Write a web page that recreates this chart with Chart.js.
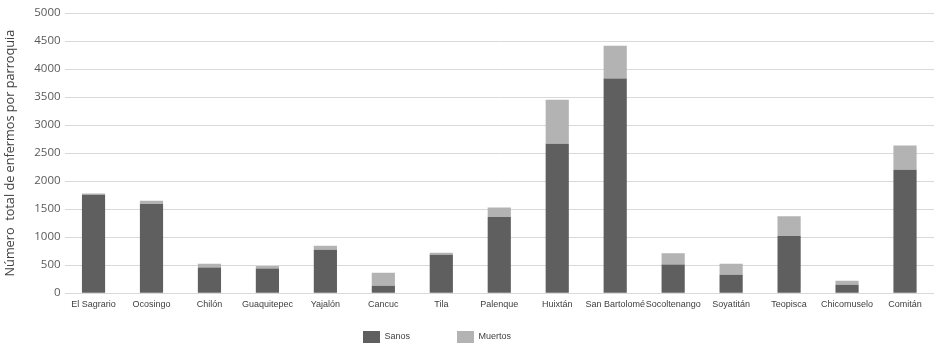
<!DOCTYPE html>
<html>
<head>
<meta charset="utf-8">
<script src="https://cdn.jsdelivr.net/npm/chart.js@4"></script>
<style>
  html, body { margin: 0; padding: 0; background: #fff; }
  #wrap { width: 937px; height: 355px; }
</style>
</head>
<body>
<div id="wrap"><canvas id="parroquiasChart" width="937" height="355"></canvas></div>
<script>
const parroquias = ['El Sagrario', 'Ocosingo', 'Chilón', 'Guaquitepec', 'Yajalón', 'Cancuc', 'Tila', 'Palenque',
    'Huixtán', 'San Bartolomé', 'Socoltenango', 'Soyatitán', 'Teopisca', 'Chicomuselo', 'Comitán'];
const sanos = [1755, 1590, 460, 440, 775, 135, 685, 1360, 2665, 3830, 510, 330, 1020, 150, 2205];
const muertos = [25, 60, 65, 45, 70, 230, 35, 170, 785, 585, 205, 195, 355, 70, 430];
const yTicks = [0, 500, 1000, 1500, 2000, 2500, 3000, 3500, 4000, 4500, 5000];

// legend in the original sits left of centre, with wide gaps between items;
// the big label padding pushes items down, so pull the box top up (bottom stays for the clip)
const moveLegend = {
    id: 'moveLegend',
    afterLayout(chart) {
        const lg = chart.legend;
        lg.left -= 31;
        lg.right -= 31;
        lg.top -= 32;
    }
};

document.addEventListener('DOMContentLoaded', () => {
    const ctx = document.getElementById('parroquiasChart').getContext('2d');
    new Chart(ctx, {
        type: 'bar',
        data: {
            labels: parroquias,
            datasets: [{
                label: 'Sanos',
                data: sanos,
                backgroundColor: '#5f5f5f',
                categoryPercentage: 0.8,
                barPercentage: 0.5
            }, {
                label: 'Muertos',
                data: muertos,
                backgroundColor: '#b3b3b3',
                categoryPercentage: 0.8,
                barPercentage: 0.5
            }]
        },
        options: {
            responsive: false,
            animation: false,
            layout: { padding: { top: 13, right: 3, bottom: 4, left: 2 } },
            plugins: {
                legend: {
                    position: 'bottom',
                    maxHeight: 35,
                    labels: {
                        boxWidth: 17,
                        boxHeight: 12,
                        padding: 47,
                        color: '#404040',
                        font: { family: "'Liberation Sans', sans-serif", size: 9 }
                    }
                },
                tooltip: { enabled: false }
            },
            scales: {
                x: {
                    stacked: true,
                    grid: { display: false, drawTicks: false },
                    border: { display: false },
                    ticks: {
                        color: '#404040',
                        maxRotation: 0,
                        autoSkip: false,
                        padding: 6,
                        font: { family: "'Liberation Sans', sans-serif", size: 9 }
                    }
                },
                y: {
                    stacked: true,
                    min: 0,
                    max: 5000,
                    afterBuildTicks: (axis) => { axis.ticks = yTicks.map(v => ({ value: v })); },
                    grid: { color: '#d9d9d9', drawTicks: false },
                    border: { display: false },
                    ticks: {
                        color: '#595959',
                        padding: 4,
                        font: { family: "'Open Sans', sans-serif", size: 11.5 },
                        callback: (v) => String(v)
                    },
                    title: {
                        display: true,
                        text: 'Número  total de enfermos por parroquia',
                        color: '#404040',
                        padding: { top: 1, bottom: 12 },
                        font: { family: "'Open Sans', sans-serif", size: 12.7 }
                    }
                }
            }
        },
        plugins: [moveLegend]
    });
});
</script>
</body>
</html>
